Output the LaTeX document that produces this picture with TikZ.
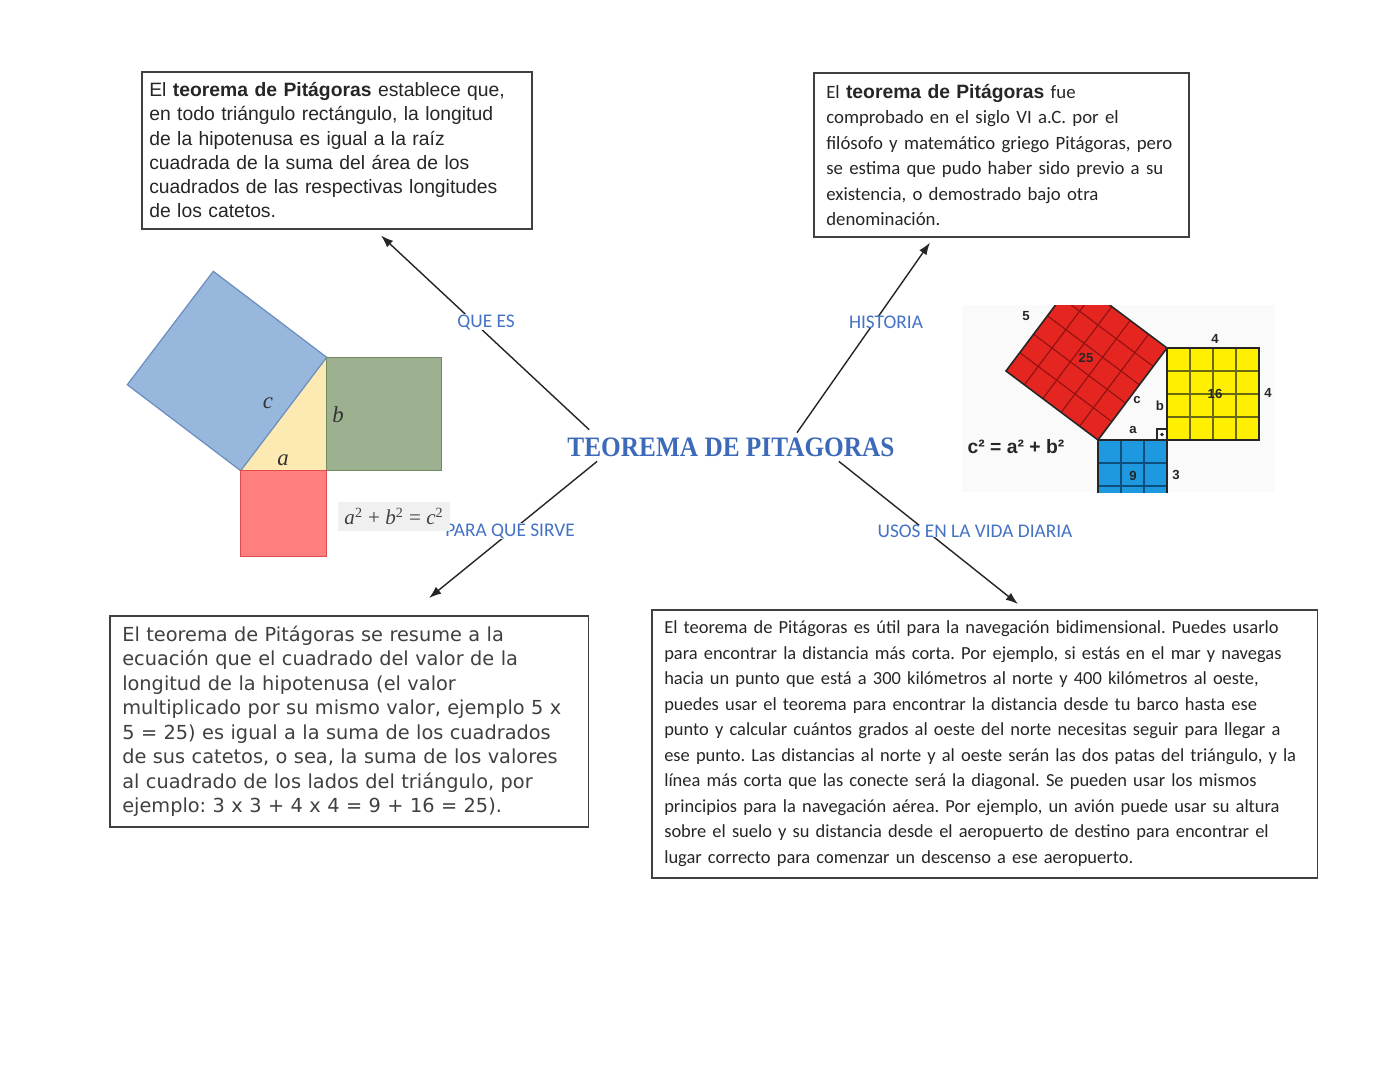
\documentclass[tikz,border=0pt]{standalone}
\usepackage{fontspec}
\setmainfont{Liberation Sans}
\newfontfamily\calfont{Carlito}
\newfontfamily\dejafont{DejaVu Sans}
\newfontfamily\serfont{Liberation Serif}
\newfontfamily\titlefont{Liberation Serif}[FakeStretch=0.9]
\usepackage{tikz}
\usetikzlibrary{positioning,arrows.meta,calc}
\usepackage{xcolor}
\frenchspacing

\definecolor{tblue}{HTML}{3D6AB8}
\definecolor{lblue}{HTML}{4472C4}
\definecolor{sqblue}{HTML}{97B8DC}
\definecolor{sqblueD}{HTML}{6C8EBF}
\definecolor{sqgreen}{HTML}{9DB08F}
\definecolor{sqgreenD}{HTML}{718C63}
\definecolor{sqred}{HTML}{FF7F7F}
\definecolor{sqredD}{HTML}{E04C4C}
\definecolor{sqyellow}{HTML}{FDEAB2}
\definecolor{pred}{HTML}{E42520}
\definecolor{predD}{HTML}{8E1212}
\definecolor{pyellow}{HTML}{FFF000}
\definecolor{pyellowD}{HTML}{6A6A10}
\definecolor{pcyan}{HTML}{1E98DE}
\definecolor{pcyanD}{HTML}{0C4F7C}

\begin{document}
\begin{tikzpicture}[x=0.02cm, y=-0.02cm,
    infobox/.style={draw=black!75, line width=0.9pt, fill=white, align=left,
        anchor=north west, inner ysep=0pt, text=black!85},
    pil/.style={-{Latex[length=7pt,width=5pt]}, line width=0.8pt, black!85},
    rama/.style={font=\calfont\fontsize{11}{13}\selectfont, text=lblue, fill=white, inner sep=0pt},
    edge/.style={draw=black!85, line width=0.9pt},
    tag/.style={font=\bfseries\fontsize{7.5}{8}\selectfont, text=black!85, inner sep=0pt},
    letra/.style={font=\serfont\itshape\fontsize{13}{13}\selectfont, text=black!80}
]
    \fill[white] (0,0) rectangle (1398,1080);
    \useasboundingbox (0,0) rectangle (1398,1080);

    % Central title
    \node[font=\titlefont\bfseries\fontsize{16}{18}\selectfont, text=tblue,
        inner sep=0pt, text height=11.4pt, text depth=0pt] (title) at (731,446) {TEOREMA DE PITAGORAS};

    % Top-left card: definition
    \node[infobox, inner xsep=4pt, text width=7.5cm, minimum width=7.8cm, minimum height=3.14cm,
        font=\fontsize{11}{13.8}\selectfont]
        (defbox) at (141,71) {
        El \textbf{teorema de Pitágoras} establece que,\\
        en todo triángulo rectángulo, la longitud\\
        de la hipotenusa es igual a la raíz\\
        cuadrada de la suma del área de los\\
        cuadrados de las respectivas longitudes\\
        de los catetos.};

    % Top-right card: history
    \node[infobox, inner xsep=7pt, text width=7.0cm, minimum width=7.5cm, minimum height=3.28cm,
        font=\calfont\fontsize{10.7}{14.5}\selectfont]
        (histbox) at (813,72) {
        El {\normalfont\bfseries\fontsize{11}{14.5}\selectfont teorema de Pitágoras} fue\\
        comprobado en el siglo VI a.C. por el\\
        filósofo y matemático griego Pitágoras, pero\\
        se estima que pudo haber sido previo a su\\
        existencia, o demostrado bajo otra\\
        denominación.};

    % Bottom-left card: what it is for
    \node[infobox, inner xsep=7pt, text width=9.08cm, minimum width=9.58cm, minimum height=4.22cm,
        font=\dejafont\fontsize{11}{13.9}\selectfont, text=black!75]
        (usobox) at (109,615) {
        El teorema de Pitágoras se resume a la\\
        ecuación que el cuadrado del valor de la\\
        longitud de la hipotenusa (el valor\\
        multiplicado por su mismo valor, ejemplo 5 x\\
        5 = 25) es igual a la suma de los cuadrados\\
        de sus catetos, o sea, la suma de los valores\\
        al cuadrado de los lados del triángulo, por\\
        ejemplo: 3 x 3 + 4 x 4 = 9 + 16 = 25).};

    % Bottom-right card: daily life
    \node[infobox, inner xsep=7pt, text width=12.82cm, minimum width=13.32cm, minimum height=5.36cm,
        font=\calfont\fontsize{10.5}{14.5}\selectfont]
        (vidabox) at (651,609) {
        El teorema de Pitágoras es útil para la navegación bidimensional. Puedes usarlo\\
        para encontrar la distancia más corta. Por ejemplo, si estás en el mar y navegas\\
        hacia un punto que está a 300 kilómetros al norte y 400 kilómetros al oeste,\\
        puedes usar el teorema para encontrar la distancia desde tu barco hasta ese\\
        punto y calcular cuántos grados al oeste del norte necesitas seguir para llegar a\\
        ese punto. Las distancias al norte y al oeste serán las dos patas del triángulo, y la\\
        línea más corta que las conecte será la diagonal. Se pueden usar los mismos\\
        principios para la navegación aérea. Por ejemplo, un avión puede usar su altura\\
        sobre el suelo y su distancia desde el aeropuerto de destino para encontrar el\\
        lugar correcto para comenzar un descenso a ese aeropuerto.};

    % Branches from the title
    \draw[pil] ($(title.north west)+(22,-6)$) -- ($(defbox.south west)+(240,6)$);
    \draw[pil] ($(title.north)+(66,-3)$) -- ($(histbox.south west)+(117,5)$);
    \draw[pil] ($(title.south west)+(30,5)$) -- ($(usobox.north west)+(320,-17)$);
    \draw[pil] ($(title.south east)+(-56,5)$) -- ($(vidabox.north west)+(367,-5)$);

    \node[rama] (qlbl) at (486,322) {QUE ES};
    \node[rama] (hlbl) at (886,322) {HISTORIA};
    \node[rama] (plbl) at (510,531) {PARA QUE SIRVE};
    \node[rama] (ulbl) at (975,531) {USOS EN LA VIDA DIARIA};

    % Left figure: squares on the sides
    \fill[sqyellow] (240.7,470.7) -- (326.7,470.7) -- (326.7,357.3) -- cycle;
    \filldraw[fill=sqblue, draw=sqblueD, line width=0.7pt]
        (240.7,470.7) -- (326.7,357.3) -- (213.3,271.3) -- (127.3,384.7) -- cycle;
    \filldraw[fill=sqgreen, draw=sqgreenD, line width=0.7pt] (326.7,357.3) rectangle (441.7,470.7);
    \filldraw[fill=sqred, draw=sqredD, line width=0.7pt] (240.7,470.7) rectangle (326.7,556.7);

    \node[letra] (lc) at (268,403) {c};
    \node[letra] (lb) at (338,415) {b};
    \node[letra] (la) at (283,460) {a};
    \node[fill=black!6, minimum width=2.24cm, minimum height=0.54cm, text=black!75,
        font=\serfont\fontsize{12}{12}\selectfont] (formA) at (394,516.5)
        {\textit{a}\textsuperscript{2} + \textit{b}\textsuperscript{2} = \textit{c}\textsuperscript{2}};

    % Right figure: 3-4-5 grid squares
    \fill[black!2] (962,305) rectangle (1275,492);
    \begin{scope}
        \clip (962,305) rectangle (1275,492);
        \fill[pred] (1098,440) -- (1167,348) -- (1075,279) -- (1006,371) -- cycle;
        \foreach \i in {1,...,4} {
            \draw[predD, line width=0.6pt] ($(1098,440)+\i*(13.8,-18.4)$) -- ++(-92,-69);
            \draw[predD, line width=0.6pt] ($(1098,440)+\i*(-18.4,-13.8)$) -- ++(69,-92);
        }
        \draw[edge] (1098,440) -- (1167,348) -- (1075,279) -- (1006,371) -- cycle;

        \fill[pyellow] (1167,348) rectangle (1259,440);
        \foreach \i in {1,2,3} {
            \draw[pyellowD, line width=0.6pt] (1167+\i*23,348) -- (1167+\i*23,440);
            \draw[pyellowD, line width=0.6pt] (1167,348+\i*23) -- (1259,348+\i*23);
        }
        \draw[edge] (1167,348) rectangle (1259,440);

        \fill[pcyan] (1098,440) rectangle (1167,509);
        \foreach \i in {1,2} {
            \draw[pcyanD, line width=0.6pt] (1098+\i*23,440) -- (1098+\i*23,509);
            \draw[pcyanD, line width=0.6pt] (1098,440+\i*23) -- (1167,440+\i*23);
        }
        \draw[edge] (1098,440) rectangle (1167,509);
    \end{scope}
    \draw[black!85, line width=0.6pt] (1157,429) rectangle (1167,440);
    \fill[black!85] (1162,434.5) circle (1.1pt);

    \node[tag] (t5) at (1026,316) {5};
    \node[tag] (t25) at (1086,358) {25};
    \node[tag] (tc) at (1137,400) {c};
    \node[tag] (tb) at (1160,406) {b};
    \node[tag] (ta) at (1133,430) {a};
    \node[tag] (t4a) at (1215,339) {4};
    \node[tag] (t16) at (1215,394) {16};
    \node[tag] (t4b) at (1268,393) {4};
    \node[tag] (t9) at (1133,476) {9};
    \node[tag] (t3) at (1176,475) {3};
    \node[font=\bfseries\fontsize{11}{11}\selectfont, text=black!85] (formB) at (1016,447) {c² = a² + b²};

\end{tikzpicture}
\end{document}
